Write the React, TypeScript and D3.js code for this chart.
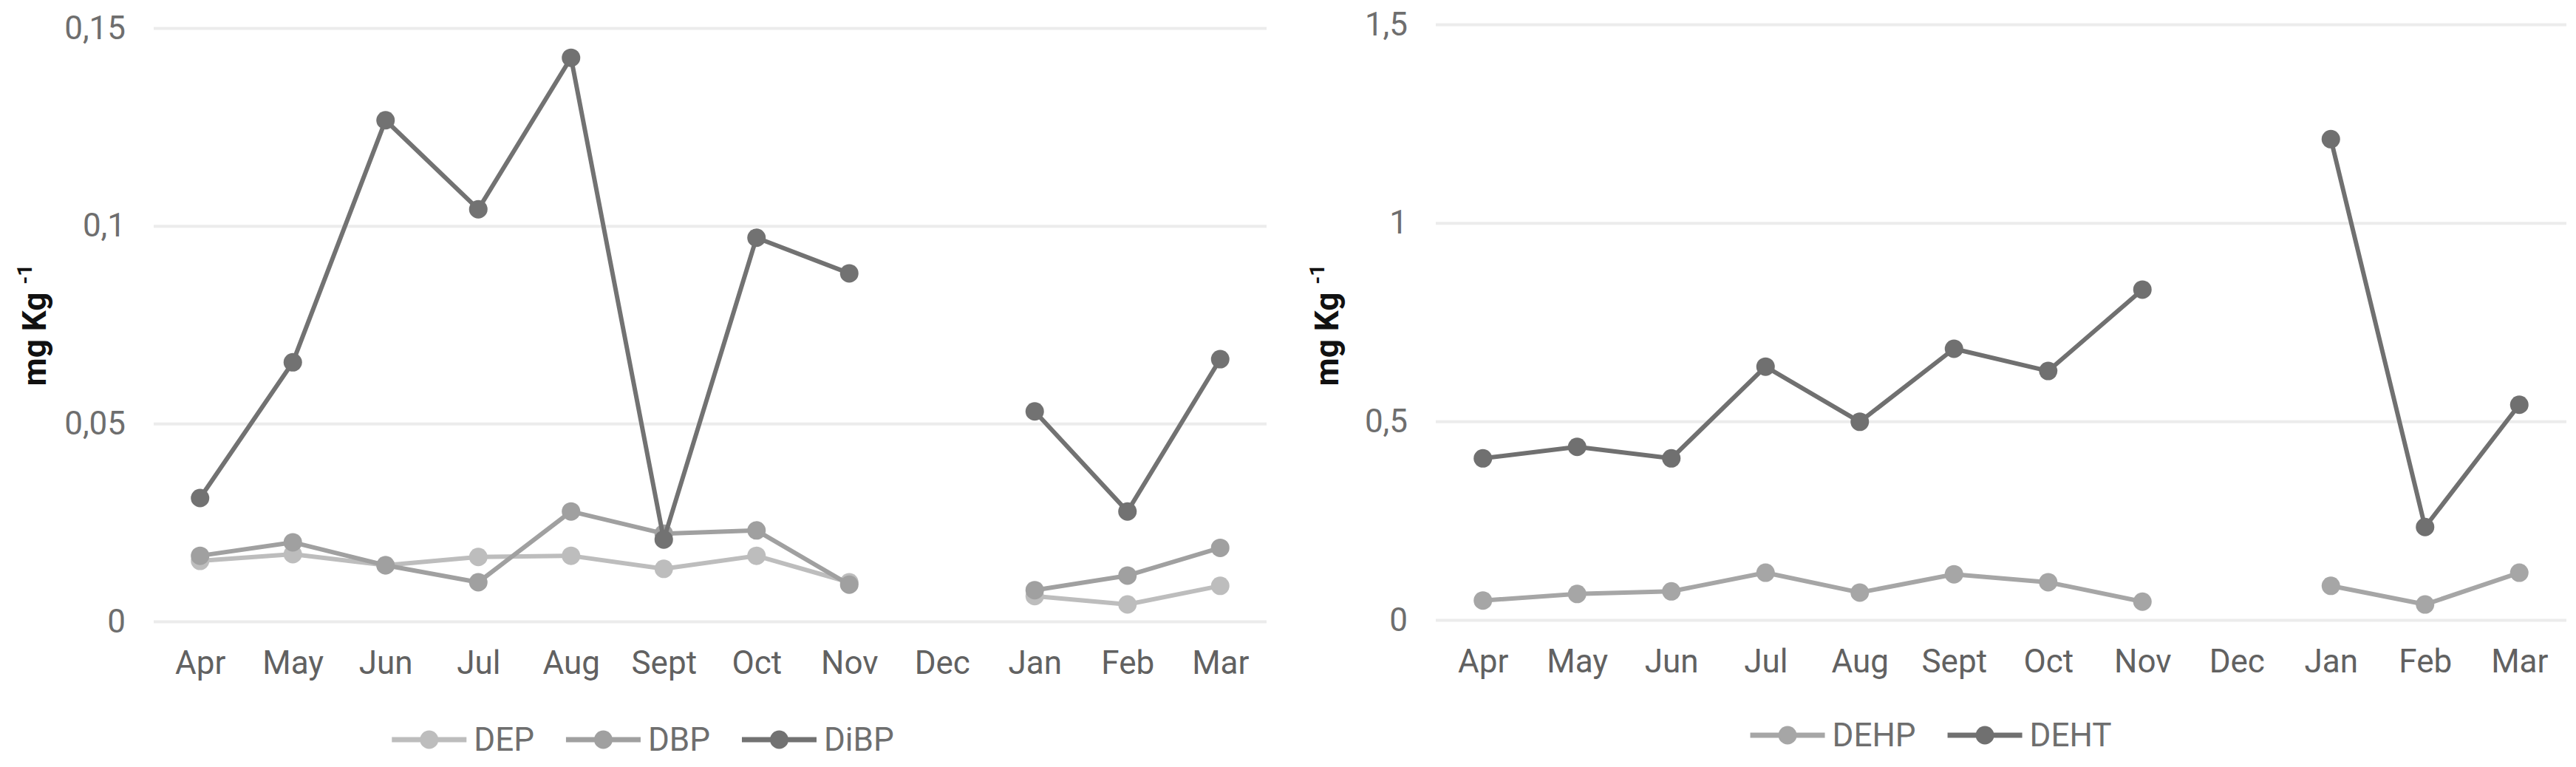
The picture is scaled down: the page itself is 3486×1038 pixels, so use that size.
import React, { useEffect, useRef } from 'react'
import * as d3 from 'd3'

const months = ['Apr', 'May', 'Jun', 'Jul', 'Aug', 'Sept', 'Oct', 'Nov', 'Dec', 'Jan', 'Feb', 'Mar']

// left panel (mg Kg-1)
const dep = [0.0153, 0.017, 0.0142, 0.0163, 0.0166, 0.0133, 0.0166, 0.0099, null, 0.0064, 0.0043, 0.009]
const dbp = [0.0166, 0.02, 0.0142, 0.0099, 0.0278, 0.0222, 0.023, 0.0093, null, 0.0079, 0.0116, 0.0186]
const dibp = [0.0312, 0.0655, 0.1267, 0.1042, 0.1425, 0.0207, 0.097, 0.088, null, 0.0531, 0.0278, 0.0663]
const leftTicks = [0, 0.05, 0.1, 0.15]

// right panel
const dehp = [0.049, 0.0655, 0.072, 0.119, 0.069, 0.115, 0.095, 0.046, null, 0.086, 0.039, 0.119]
const deht = [0.407, 0.436, 0.407, 0.638, 0.499, 0.683, 0.627, 0.832, null, 1.211, 0.234, 0.542]
const rightTicks = [0, 0.5, 1, 1.5]

const FONT = '"Liberation Sans Narrow", Roboto, "Liberation Sans", sans-serif'
const fmt = (v) => String(v).replace('.', ',')

export default function App() {
  const ref = useRef(null)

  useEffect(() => {
    const svg = d3.select(ref.current)
    svg.selectAll('*').remove()

    const panels = [
      {
        x0: 0, x1: 1740, left: 208, right: 1714, top: 38, zero: 841, max: 0.15,
        ticks: leftTicks, labelX: 47, legendY: 1001,
        series: [
          { name: 'DEP', values: dep, color: '#bdbdbd' },
          { name: 'DBP', values: dbp, color: '#a0a0a0' },
          { name: 'DiBP', values: dibp, color: '#727272' },
        ],
      },
      {
        x0: 1740, x1: 3486, left: 1943, right: 3473, top: 33, zero: 839, max: 1.5,
        ticks: rightTicks, labelX: 1796, legendY: 995,
        series: [
          { name: 'DEHP', values: dehp, color: '#a6a6a6' },
          { name: 'DEHT', values: deht, color: '#707070' },
        ],
      },
    ]

    panels.forEach(p => {
      const g = svg.append('g')
      const x = d3.scalePoint().domain(months).range([p.left, p.right]).padding(0.5)
      const y = d3.scaleLinear().domain([0, p.max]).range([p.zero, p.top])

      // gridlines + y tick labels
      g.append('g')
        .attr('transform', `translate(${p.left},0)`)
        .call(d3.axisLeft(y).tickValues(p.ticks).tickSize(-(p.right - p.left)).tickPadding(38).tickFormat(fmt))
        .call(a => a.select('.domain').remove())
        .call(a => a.selectAll('.tick line').attr('stroke', '#ececec').attr('stroke-width', 4))
        .call(a => a.selectAll('.tick text')
          .attr('font-family', FONT).attr('font-size', 44).attr('fill', '#6e6e6e'))

      // month labels
      g.append('g')
        .attr('transform', `translate(0,${p.zero})`)
        .call(d3.axisBottom(x).tickSize(0).tickPadding(40))
        .call(a => a.select('.domain').remove())
        .call(a => a.selectAll('.tick text')
          .attr('font-family', FONT).attr('font-size', 44).attr('fill', '#616161'))

      // y title
      const t = g.append('text')
        .attr('transform', `translate(${p.labelX},440) rotate(-90)`)
        .attr('text-anchor', 'middle')
        .attr('dy', '0.35em')
        .attr('font-family', FONT)
        .attr('font-size', 44)
        .attr('font-weight', 'bold')
        .attr('fill', '#111')
      t.append('tspan').text('mg Kg ')
      t.append('tspan').attr('font-size', 28).attr('dy', '-0.7em').text('-1')

      const line = d3.line()
        .defined(d => d != null)
        .x((d, i) => x(months[i]))
        .y(d => y(d))

      p.series.forEach(s => {
        g.append('path')
          .datum(s.values)
          .attr('fill', 'none')
          .attr('stroke', s.color)
          .attr('stroke-width', 6)
          .attr('stroke-linejoin', 'round')
          .attr('d', line)
        g.append('g')
          .selectAll('circle')
          .data(s.values.map((v, i) => ({ v, m: months[i] })).filter(d => d.v != null))
          .join('circle')
          .attr('cx', d => x(d.m))
          .attr('cy', d => y(d.v))
          .attr('r', 12.5)
          .attr('fill', s.color)
      })

      // legend, centred under the panel
      const lg = g.append('g')
      let cx = 0
      const lineLen = 101, gapText = 10, gapItem = 43
      p.series.forEach((s, i) => {
        const it = lg.append('g').attr('transform', `translate(${cx},0)`)
        it.append('line').attr('x1', 0).attr('x2', lineLen).attr('y1', 0).attr('y2', 0)
          .attr('stroke', s.color).attr('stroke-width', 7)
        it.append('circle').attr('cx', lineLen / 2).attr('cy', 0).attr('r', 12.5).attr('fill', s.color)
        const tx = it.append('text').attr('x', lineLen + gapText).attr('y', 0).attr('dy', '0.35em')
          .attr('font-family', FONT).attr('font-size', 44).attr('fill', '#6e6e6e').text(s.name)
        const w = (tx.node() as any).getComputedTextLength()
        cx += lineLen + gapText + w + (i < p.series.length - 1 ? gapItem : 0)
      })
      const mid = (p.x0 + p.x1) / 2
      lg.attr('transform', `translate(${mid - cx / 2},${p.legendY})`)
    })
  }, [])

  return (
    <svg ref={ref} width={3486} height={1038}
      style={{ position: 'absolute', left: 0, top: 0, background: '#fff' }} />
  )
}
